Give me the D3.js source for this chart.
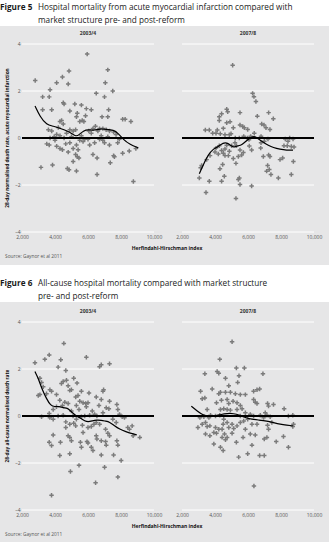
<!DOCTYPE html>
<html><head><meta charset="utf-8">
<script src="https://cdn.jsdelivr.net/npm/d3@7"></script>
<style>
html,body{margin:0;padding:0;background:#fff;}
svg{display:block;font-family:"Open Sans",sans-serif;}
</style></head>
<body><svg id="c" width="329" height="546"></svg>
<script>
// ---------- DATA ----------
const xTicks = [2000, 4000, 6000, 8000, 10000];
const yTicks = [4, 2, 0, -2, -4];
const periods = ["2003/4", "2007/8"];

// Figure 5: AMI, 2003/4  [HHI, normalised death rate]
const ami0304 = [
[2800,2.45],[5950,3.57],[4850,2.85],[7200,2.9],[4450,2.6],[4100,2.35],[4800,2.3],[3700,2.05],[7050,2.35],[7500,2.0],
[6500,1.9],[3250,1.75],[3650,1.75],[7000,1.75],[3250,1.2],[3800,1.2],[4550,1.45],[4500,1.5],[5200,1.45],[5600,1.4],
[4900,1.15],[5900,1.25],[6200,1.2],[7250,1.2],[5350,1.05],[5850,0.95],[5300,0.9],[6850,0.9],[7200,0.9],[8100,0.8],
[8250,0.8],[8600,0.7],[3600,0.35],[3800,0.3],[4100,0.15],[4300,0.7],[4400,0.75],[4500,0.6],[4200,0.45],[5500,0.7],
[5650,0.75],[5750,0.7],[6050,0.3],[6300,0.4],[6450,0.5],[6700,0.4],[6900,0.4],[7100,0.35],[7300,0.3],[7550,0.25],
[7700,0.15],[6600,0.3],[6200,0.2],[5250,0.35],[5100,0.3],[4900,0.35],[4700,0.2],[4550,0.0],[4300,0.1],[3950,0.05],
[3700,0.0],[3500,-0.25],[3650,-0.3],[4100,-0.35],[4300,-0.45],[4450,-0.5],[4650,-0.25],[4900,-0.2],[4800,-0.6],[5100,-0.45],
[5300,-0.3],[5400,-0.5],[5250,-0.7],[5350,-0.8],[5450,-0.85],[5700,-0.15],[5800,-0.05],[6100,-0.3],[6300,-0.7],[6550,-0.85],
[6400,-0.2],[6700,-0.05],[6900,-0.1],[7000,-0.2],[7300,-0.3],[7550,-0.75],[7600,-0.8],[7800,-0.2],[7900,-0.05],[8100,-0.65],
[8500,-0.55],[8900,-0.45],[3150,-1.25],[3850,-1.15],[4850,-1.35],[4750,-1.3],[5100,-1.0],[5300,-1.4],[6550,-1.55],[7350,-1.05],
[8750,-1.85],[5000,0.05],[5600,0.1],[6000,-0.05],[6800,0.1],[7200,0.05],[5500,-0.1],[4000,-0.1]
];
const amiSmooth0304 = [
[2790,1.36],[3090,0.91],[3495,0.55],[3900,0.51],[4300,0.41],[4710,0.31],[5010,0.2],[5270,0.06],[5470,0.14],[5720,0.31],
[6020,0.37],[6320,0.31],[6730,0.4],[7130,0.37],[7535,0.34],[7840,0.2],[8140,-0.07],[8545,-0.28],[9050,-0.42]
];

// Figure 5: AMI, 2007/8
const ami0708 = [
[5070,3.1],[6280,1.9],[6360,1.76],[6480,1.55],[5515,1.08],[7250,1.08],[4710,1.22],[4770,1.12],[4400,1.03],[4260,0.9],
[4260,0.74],[6565,0.93],[7535,0.82],[6830,0.6],[6970,0.55],[7090,0.44],[7330,0.36],[5515,0.55],[5680,0.49],[5110,0.44],
[5780,0.44],[5980,0.36],[4910,0.69],[4710,0.65],[4505,0.41],[4140,0.34],[3415,0.34],[3655,0.34],[3860,0.2],[4060,0.2],
[4320,0.18],[4870,0.14],[4970,0.18],[5475,0.0],[6380,0.2],[6790,0.07],[7210,-0.04],[8260,-0.04],[8525,0.0],[8730,-0.04],
[8425,-0.14],[8790,-0.38],[4260,-0.33],[4060,-0.43],[3700,-0.75],[3495,-0.92],[3130,-1.27],[3190,-1.17],[3050,-1.7],[3455,-2.32],
[3655,-1.84],[4400,-1.84],[4565,-1.63],[4300,-1.31],[4465,-1.13],[4605,-0.75],[4810,-0.75],[4870,-0.56],[4505,-0.65],[5110,-0.87],
[5270,-1.08],[5415,-0.79],[5515,-0.51],[5615,-0.72],[5720,-0.62],[5475,-1.7],[5415,-1.77],[5515,-1.98],[5270,-2.57],[6220,-2.04],
[6080,-0.34],[6220,-0.51],[6770,-0.43],[6930,-0.79],[7250,-0.72],[7330,-0.79],[7190,-1.17],[7290,-1.34],[7840,-1.7],[7130,-1.41],
[7390,-1.55],[7940,-0.92],[8100,-0.85],[8180,-0.33],[8380,-0.33],[8625,-0.36],[8750,-1.0],[8625,-1.55],[6790,-0.2],[6990,-0.14],
[6060,-0.07],[6160,0.07],[5740,0.07],[5210,-0.2],[5010,-0.33],[4710,-0.31],[4605,-0.47],[4400,-0.53],[4000,-0.6],[4200,-0.68],
[5960,0.0],[5230,0.0],[4605,0.14],[5300,-0.33]
];
const amiSmooth0708 = [
[3050,-1.52],[3290,-1.13],[3600,-0.7],[3900,-0.46],[4200,-0.37],[4505,-0.2],[4710,-0.2],[4950,-0.31],[5110,-0.41],[5350,-0.33],
[5615,-0.31],[5960,-0.08],[6220,0.05],[6425,0.08],[6625,-0.04],[6930,-0.18],[7230,-0.31],[7535,-0.41],[7940,-0.48],[8340,-0.52],[8730,-0.52]
];

// Figure 6: all-cause, 2003/4
const all0304 = [
[2785,2.27],[3085,1.61],[3650,2.6],[3385,2.41],[4350,2.39],[4535,3.09],[4190,2.08],[4655,1.94],[5900,2.5],[6700,2.1],
[6805,2.18],[7305,2.22],[3185,1.43],[3285,1.24],[3085,0.91],[2985,0.87],[3485,0.95],[3690,1.12],[3790,1.05],[4090,0.91],
[4390,1.38],[4495,1.47],[4695,1.52],[4795,1.29],[4995,1.12],[5135,1.61],[5335,1.4],[5600,1.05],[4895,1.09],[5255,0.81],
[5395,0.87],[5500,0.63],[5700,0.56],[5860,0.53],[6000,0.56],[6060,0.98],[6500,0.81],[6905,1.05],[6945,1.12],[6805,0.7],
[6665,0.45],[7105,0.35],[7305,0.63],[7265,0.31],[7750,0.49],[7810,0.28],[7910,0.07],[8210,-0.07],[8070,-0.03],[4290,0.67],
[4455,0.45],[4595,0.59],[4795,0.53],[4090,0.39],[3890,0.28],[3650,0.11],[3185,-0.03],[3690,-0.07],[3890,-0.14],[4190,0.0],
[4495,0.03],[4995,0.21],[5095,0.0],[5295,-0.14],[5600,-0.03],[5800,0.0],[6100,0.03],[6400,0.07],[6905,0.14],[7505,-0.14],
[4655,-0.25],[4895,-0.35],[5135,-0.31],[5255,-0.42],[5660,-0.39],[6000,-0.49],[6200,-0.45],[6360,-0.35],[6500,-0.28],[6705,-0.35],
[7065,-0.56],[7205,-0.73],[7305,-0.84],[7710,-0.28],[8675,-0.42],[8510,-0.56],[8410,-0.49],[9140,-0.91],[8735,-0.84],[3890,-0.81],
[3650,-1.12],[3790,-1.26],[4330,-1.12],[4290,-1.68],[4655,-0.49],[4795,-0.84],[4895,-0.91],[4995,-1.05],[4895,-1.61],[4935,-2.36],
[5455,-2.1],[5540,-1.12],[5600,-1.33],[5700,-0.7],[5940,-1.09],[6000,-1.15],[6200,-1.33],[6300,-1.47],[6500,-0.84],[6540,-0.98],
[6805,-1.05],[6805,-1.66],[7065,-1.09],[7105,-1.24],[7005,-2.18],[6460,-2.84],[7550,-1.66],[7750,-1.05],[7810,-1.24],[8010,-1.89],
[7810,-2.6],[3790,-3.37],[5900,0.39],[5455,0.28],[5295,0.45],[6260,0.21],[6540,0.0]
];
const allSmooth0304 = [
[2785,1.89],[2985,1.61],[3185,1.19],[3485,0.73],[3730,0.45],[3990,0.39],[4250,0.42],[4495,0.34],[4695,0.35],[4855,0.28],
[5055,0.14],[5295,0.0],[5600,-0.11],[5800,-0.21],[6000,-0.25],[6260,-0.21],[6500,-0.17],[6805,-0.18],[7065,-0.22],[7305,-0.25],
[7610,-0.42],[7910,-0.56],[8310,-0.67],[8615,-0.74],[8955,-0.8]
];

// Figure 6: all-cause, 2007/8
const all0708 = [
[5035,3.16],[4290,2.41],[4130,1.89],[4230,1.82],[4635,1.61],[5295,2.04],[5780,2.04],[6905,1.8],[3385,1.8],[5455,1.71],
[5375,1.43],[4835,1.29],[3830,1.15],[4230,0.95],[4330,1.01],[4635,1.01],[4935,1.01],[5235,0.95],[5535,0.91],[3125,1.05],
[3225,0.73],[3385,0.77],[4090,0.56],[4390,0.67],[4735,0.7],[4835,0.53],[5095,0.63],[5335,0.56],[5535,0.45],[5640,0.31],
[5840,0.91],[6340,1.05],[6545,1.12],[6705,1.15],[6340,0.7],[6440,0.59],[6545,0.53],[7185,0.53],[7245,0.42],[7545,0.49],
[8190,0.31],[4330,0.28],[4530,0.31],[4735,0.28],[4935,0.25],[5335,0.28],[5840,0.14],[6140,0.07],[6745,0.03],[7045,0.14],
[7145,0.03],[7345,-0.03],[8450,0.0],[8715,0.03],[3085,-0.07],[3325,-0.03],[3630,-0.07],[3730,0.03],[4030,0.0],[4290,0.03],
[2965,-0.49],[3225,-0.35],[3425,-0.28],[3525,-0.45],[3690,-0.42],[4030,-0.49],[4230,-0.56],[3425,-0.77],[3690,-0.84],[3930,-0.7],
[4090,-0.73],[4530,-0.14],[4735,-0.28],[4495,-0.35],[4430,-0.56],[4575,-0.77],[4430,-0.91],[4635,-1.01],[4330,-1.33],[4495,-1.47],
[4735,-0.91],[5035,-0.35],[5135,-0.53],[5335,-0.42],[5535,-0.28],[5740,-0.21],[5035,-0.73],[5295,-1.12],[5700,-0.91],[5980,-0.14],
[6240,-0.35],[6545,-0.35],[6140,-0.77],[6440,-0.81],[6240,-1.24],[5980,-1.61],[5435,-1.75],[6705,-1.68],[6985,-1.68],[6985,-0.98],
[7145,-0.91],[7245,-0.56],[7185,-0.39],[7445,-0.28],[7710,-1.09],[8150,-0.87],[8450,-1.33],[8755,-0.35],[8715,-0.45],[6360,-2.98],
[3930,-1.19],[6945,-0.07],[4835,-0.49],[5840,-0.56],[3525,0.28],[5535,0.0],[6340,0.0]
];
const allSmooth0708 = [
[2565,0.42],[2925,0.21],[3285,0.03],[3630,0.0],[4030,0.0],[4370,0.07],[4735,0.11],[5135,0.11],[5495,0.03],[5840,-0.07],
[6240,-0.14],[6645,-0.17],[7145,-0.21],[7545,-0.28],[7950,-0.35],[8350,-0.39],[8715,-0.42]
];

const figures = [
  {num:"Figure 5", title:["Hospital mortality from acute myocardial infarction compared with","market structure pre- and post-reform"],
   yTitle:"28-day normalised death rate, acute myocardial infarction",
   panels:[{pts:ami0304, sm:amiSmooth0304},{pts:ami0708, sm:amiSmooth0708}],
   top:0, boxTop:26, boxBot:265, yTop:44, yBot:232},
  {num:"Figure 6", title:["All-cause hospital mortality compared with market structure","pre- and post-reform"],
   yTitle:"28-day all-cause normalised death rate",
   panels:[{pts:all0304, sm:allSmooth0304},{pts:all0708, sm:allSmooth0708}],
   top:276, boxTop:302, boxBot:542, yTop:322, yBot:510}
];

// ---------- DRAW ----------
const svg = d3.select("#c");
const panelX = [[22,154],[182,314]];
const txt = "#333";

figures.forEach(f => {
  const g = svg.append("g");
  // title
  g.append("text").attr("x",0).attr("y",f.top+10).attr("font-size",8.2).attr("font-weight","bold").attr("fill","#1a1a1a").text(f.num);
  f.title.forEach((t,i)=>{
    g.append("text").attr("x",38).attr("y",f.top+10+i*12.5).attr("font-size",8.2).attr("fill","#1a1a1a").text(t);
  });
  // box
  g.append("rect").attr("x",0).attr("y",f.boxTop).attr("width",329).attr("height",f.boxBot-f.boxTop).attr("fill","#e6e6e7");

  const y = d3.scaleLinear().domain([4,-4]).range([f.yTop,f.yBot]);

  f.panels.forEach((p,pi)=>{
    const x = d3.scaleLinear().domain([2000,10000]).range(panelX[pi]);
    const pg = g.append("g");
    // header
    pg.append("text").attr("x",(x.range()[0]+x.range()[1])/2).attr("y",f.yTop-9)
      .attr("text-anchor","middle").attr("font-size",5).attr("font-weight","bold").attr("fill",txt).text(periods[pi]);
    // gridlines
    pg.selectAll(".grid").data(yTicks.filter(d=>d!==0)).join("line")
      .attr("x1",x(2000)).attr("x2",x(10000)).attr("y1",d=>y(d)).attr("y2",d=>y(d))
      .attr("stroke","#fff").attr("stroke-width",1);
    // y tick labels (left panel only)
    if(pi===0){
      pg.selectAll(".yl").data(yTicks).join("text")
        .attr("x",x(2000)-1.5).attr("y",d=>y(d)+1.8).attr("text-anchor","end")
        .attr("font-size",5).attr("fill","#555").text(d=>d<0?"\u2013"+(-d):d);
    }
    // x axis
    const xa = pg.append("g").attr("transform",`translate(0,${f.yBot+3})`)
      .call(d3.axisBottom(x).tickValues(xTicks).tickSize(0).tickPadding(0).tickFormat(d3.format(",")));
    xa.select(".domain").remove();
    xa.selectAll("text").attr("font-size",5).attr("fill","#555").attr("font-family","'Open Sans',sans-serif");
    // points
    pg.selectAll(".pt").data(p.pts).join("path")
      .attr("transform",d=>`translate(${x(d[0])},${y(d[1])})`)
      .attr("d",d3.symbol(d3.symbolCross,11)).attr("fill","#7b7b7b");
    // zero line
    pg.append("line").attr("x1",x(2000)).attr("x2",x(10000)).attr("y1",y(0)).attr("y2",y(0))
      .attr("stroke","#000").attr("stroke-width",2.2);
    // smooth
    pg.append("path").datum(p.sm)
      .attr("d",d3.line().x(d=>x(d[0])).y(d=>y(d[1])).curve(d3.curveBasis))
      .attr("fill","none").attr("stroke","#000").attr("stroke-width",1.2);
  });
  // axis title
  g.append("text").attr("x",167).attr("y",f.yBot+18).attr("text-anchor","middle")
    .attr("font-size",5).attr("font-weight","bold").attr("fill","#111").text("Herfindahl-Hirschman index");
  // y title
  const yc = (f.yTop+f.yBot)/2;
  g.append("text").attr("transform",`translate(9,${yc}) rotate(-90)`).attr("text-anchor","middle")
    .attr("font-size",4.8).attr("font-weight","bold").attr("fill","#111").text(f.yTitle);
  // source
  g.append("text").attr("x",5).attr("y",f.yBot+26).attr("font-size",4.8).attr("fill","#555").text("Source: Gaynor et al 2011");
});
</script></body></html>
